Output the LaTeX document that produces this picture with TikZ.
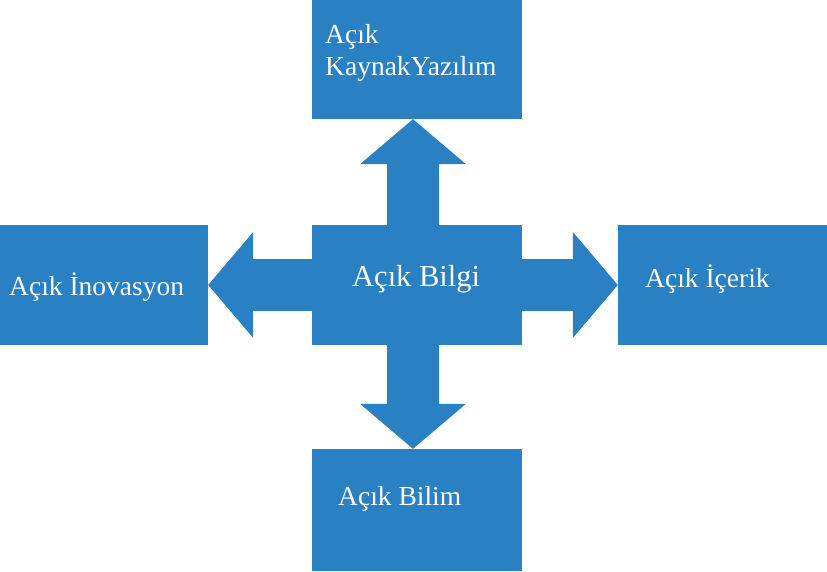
\documentclass[tikz,border=0pt]{standalone}
\usepackage{fontspec}
\setmainfont{Liberation Serif}
\usetikzlibrary{arrows.meta}
\definecolor{acikmavi}{RGB}{41,128,194}

\begin{document}
\begin{tikzpicture}[x=1pt,y=-1pt]
\tikzset{kutu/.style={rectangle,fill=acikmavi,inner sep=0pt,minimum width=210pt,minimum height=120pt},
  yazi/.style={anchor=base west,inner sep=0pt,text=white,font=\fontsize{27.5}{32}\selectfont,align=left},
  blok/.style={draw=acikmavi,line width=52pt,-{Triangle[width=106pt,length=45pt,line width=0pt]}}}%
  \useasboundingbox (0,0) rectangle (827,571);
  \node (yazilim) at (417,59.5) [kutu,minimum height=119pt] {};
  \node (inovasyon) at (104,285) [kutu,minimum width=208pt] {};
  \node (bilgi) at (417,285) [kutu] {};
  \node (icerik) at (722.5,285) [kutu,minimum width=209pt] {};
  \node (bilim) at (417,510) [kutu,minimum height=122pt] {};

  \node (tyazilim) at (325,75) [yazi] {Açık\\KaynakYazılım};
  \node (tinovasyon) at (9,295) [yazi] {Açık İnovasyon};
  \node (tbilgi) at (352,286) [yazi,font=\fontsize{30.5}{36}\selectfont] {Açık Bilgi};
  \node (ticerik) at (645,287) [yazi] {Açık İçerik};
  \node (tbilim) at (338,505) [yazi] {Açık Bilim};

  \draw [blok] ([xshift=-4pt]bilgi.north) -- ([xshift=-4pt]yazilim.south);
  \draw [blok] (bilgi.west) -- (inovasyon.east);
  \draw [blok] (bilgi.east) -- (icerik.west);
  \draw [blok] ([xshift=-4pt]bilgi.south) -- ([xshift=-4pt]bilim.north);
\end{tikzpicture}
\end{document}
